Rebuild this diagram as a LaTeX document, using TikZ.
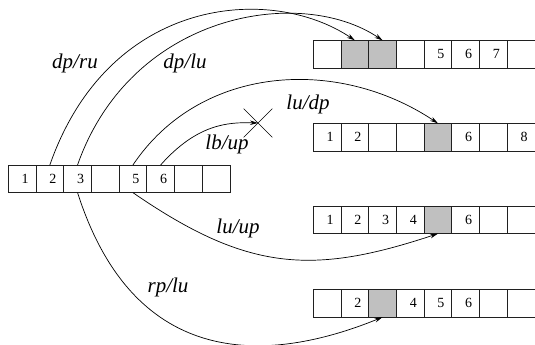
\documentclass[tikz,border=0pt]{standalone}
\usepackage{fontspec}
\setmainfont{Liberation Serif}
\usetikzlibrary{arrows.meta, shapes.misc}
\definecolor{slotgray}{HTML}{C0C0C0}
\definecolor{slotline}{HTML}{202020}

\begin{document}
\begin{tikzpicture}[x=1pt, y=-1pt, line width=0.8pt,
    slot/.style={draw=slotline, minimum width=27.7pt, minimum height=27.7pt,
                 inner sep=0pt, outer sep=0pt, font=\fontsize{14}{16}\selectfont},
    slotg/.style={slot, fill=slotgray},
    move/.style={-{Stealth[length=8pt, width=4.5pt]}, line width=0.7pt},
    lbl/.style={font=\itshape\fontsize{21}{24}\selectfont}]
  \useasboundingbox (0,0) rectangle (535,345);
  % source array
  \foreach \s/\t [count=\i] in {slot/1,slot/2,slot/3,slot/,slot/5,slot/6,slot/,slot/}
    \node[\s] (L\i) at ({8.3+27.7*(\i-0.5)},178.8) {\hspace*{6pt}\t};
  % result arrays
  \foreach \s/\t [count=\i] in {slot/,slotg/,slotg/,slot/,slot/5,slot/6,slot/7,slot/}
    \node[\s] (A\i) at ({313.3+27.7*(\i-0.5)},54.2) {\hspace*{6pt}\t};
  \foreach \s/\t [count=\i] in {slot/1,slot/2,slot/,slot/,slotg/,slot/6,slot/,slot/8}
    \node[\s] (B\i) at ({313.3+27.7*(\i-0.5)},137.2) {\hspace*{6pt}\t};
  \foreach \s/\t [count=\i] in {slot/1,slot/2,slot/3,slot/4,slotg/,slot/6,slot/,slot/}
    \node[\s] (C\i) at ({313.3+27.7*(\i-0.5)},219.8) {\hspace*{6pt}\t};
  \foreach \s/\t [count=\i] in {slot/,slot/2,slotg/,slot/4,slot/5,slot/6,slot/,slot/}
    \node[\s] (D\i) at ({313.3+27.7*(\i-0.5)},303.3) {\hspace*{6pt}\t};
  % blocked move
  \node[draw, cross out, minimum size=28pt, inner sep=0pt, line width=0.7pt] (X) at (258,123) {};
  % moves
  \draw[move] (L2.north) .. controls (109,-4) and (271,-16) .. (A2.north);
  \draw[move] (L3.north) .. controls (131,13) and (300,-15) .. (A3.north);
  \draw[move] (L5.north) .. controls (200,65) and (337,56) .. (B5.north);
  \draw[move] (L6.north) .. controls (197,124) and (228,122) .. (X.center);
  \draw[move] (L5.south) .. controls (248,272) and (313,275) .. (C5.south);
  \draw[move] (L3.south) .. controls (135,372) and (270,363) .. (D3.south);
  % labels
  \node[lbl] (ru) at (75,63) {dp/ru};
  \node[lbl] (lu) at (185,63) {dp/lu};
  \node[lbl] (dp) at (308,104) {lu/dp};
  \node[lbl] (up) at (227,144) {lb/up};
  \node[lbl] (lup) at (238,228) {lu/up};
  \node[lbl] (rp) at (168,287) {rp/lu};
\end{tikzpicture}
\end{document}
